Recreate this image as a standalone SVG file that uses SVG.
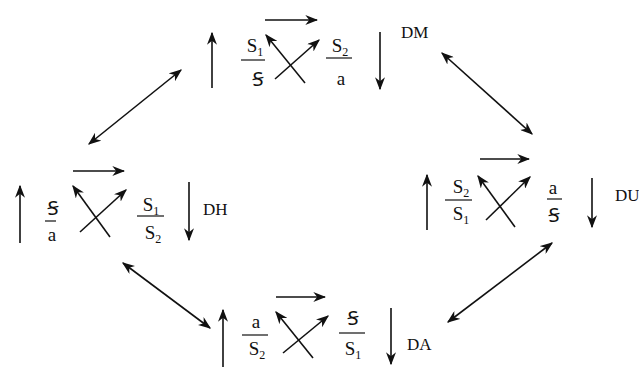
<svg xmlns="http://www.w3.org/2000/svg" width="639" height="367" viewBox="0 0 639 367">
<style>
  .ar{stroke:#111;stroke-width:1.6;fill:none;marker-end:url(#ah)}
  .dbl{stroke:#111;stroke-width:1.6;fill:none;marker-end:url(#ah);marker-start:url(#ah)}
  .fr{stroke:#111;stroke-width:1.2}
  text{font-family:"Liberation Serif","DejaVu Serif","Noto Sans",serif;fill:#111;font-size:19px}
  .c{text-anchor:middle}
  .lab{font-size:17px}
  .sub{font-size:12px}
  .sb{font-size:20px}
</style>
<defs>
  <marker id="ah" viewBox="0 0 10 10" refX="9" refY="5" markerWidth="13" markerHeight="10" markerUnits="userSpaceOnUse" preserveAspectRatio="none" orient="auto-start-reverse">
    <path d="M0,0 L10,5 L0,10 L3,5 z" fill="#111"/>
  </marker>
</defs>

<g id="DM">
  <line class="ar" x1="212" y1="88" x2="212" y2="33"/>
  <line class="ar" x1="265" y1="20" x2="317" y2="20"/>
  <text class="c" x="255" y="52">S<tspan class="sub" dy="4">1</tspan></text>
  <line class="fr" x1="241" y1="60" x2="265" y2="60"/>
  <text class="c sb" x="258" y="86">Ꞩ</text>
  <line class="ar" x1="275" y1="79" x2="319" y2="40"/>
  <line class="ar" x1="305" y1="83" x2="266" y2="35"/>
  <text class="c" x="340" y="52">S<tspan class="sub" dy="4">2</tspan></text>
  <line class="fr" x1="326" y1="58" x2="352" y2="58"/>
  <text class="c" x="341" y="85">a</text>
  <line class="ar" x1="380" y1="32" x2="380" y2="89"/>
  <text class="lab" x="401" y="38">DM</text>
</g>

<g id="DH">
  <line class="ar" x1="20" y1="243" x2="20" y2="186"/>
  <line class="ar" x1="73" y1="171" x2="124" y2="171"/>
  <text class="c sb" x="53" y="215">Ꞩ</text>
  <line class="fr" x1="45" y1="221" x2="56" y2="221"/>
  <text class="c" x="52" y="241">a</text>
  <line class="ar" x1="80" y1="232" x2="126" y2="190"/>
  <line class="ar" x1="110" y1="237" x2="73" y2="186"/>
  <text class="c" x="151" y="211">S<tspan class="sub" dy="4">1</tspan></text>
  <line class="fr" x1="137" y1="216" x2="164" y2="216"/>
  <text class="c" x="153" y="239">S<tspan class="sub" dy="4">2</tspan></text>
  <line class="ar" x1="189" y1="182" x2="189" y2="240"/>
  <text class="lab" x="203" y="215">DH</text>
</g>

<g id="DU">
  <line class="ar" x1="427" y1="230" x2="427" y2="175"/>
  <line class="ar" x1="480" y1="159" x2="529" y2="159"/>
  <text class="c" x="461" y="193">S<tspan class="sub" dy="4">2</tspan></text>
  <line class="fr" x1="445" y1="200" x2="472" y2="200"/>
  <text class="c" x="461" y="220">S<tspan class="sub" dy="4">1</tspan></text>
  <line class="ar" x1="486" y1="220" x2="530" y2="177"/>
  <line class="ar" x1="515" y1="227" x2="478" y2="176"/>
  <text class="c" x="553" y="194">a</text>
  <line class="fr" x1="547" y1="199" x2="562" y2="199"/>
  <text class="c sb" x="554" y="222">Ꞩ</text>
  <line class="ar" x1="592" y1="178" x2="592" y2="227"/>
  <text class="lab" x="615" y="201">DU</text>
</g>

<g id="DA">
  <line class="ar" x1="223" y1="367" x2="223" y2="310"/>
  <line class="ar" x1="276" y1="297" x2="325" y2="297"/>
  <text class="c" x="256" y="328">a</text>
  <line class="fr" x1="242" y1="335" x2="268" y2="335"/>
  <text class="c" x="257" y="355">S<tspan class="sub" dy="4">2</tspan></text>
  <line class="ar" x1="283" y1="353" x2="328" y2="316"/>
  <line class="ar" x1="313" y1="358" x2="276" y2="312"/>
  <text class="c sb" x="353" y="325">Ꞩ</text>
  <line class="fr" x1="339" y1="333" x2="365" y2="333"/>
  <text class="c" x="353" y="355">S<tspan class="sub" dy="4">1</tspan></text>
  <line class="ar" x1="391" y1="308" x2="391" y2="364"/>
  <text class="lab" x="407" y="350">DA</text>
</g>

<g id="connectors">
  <line class="dbl" x1="89" y1="144" x2="181" y2="70"/>
  <line class="dbl" x1="442" y1="53" x2="532" y2="134"/>
  <line class="dbl" x1="123" y1="263" x2="210" y2="328"/>
  <line class="dbl" x1="448" y1="322" x2="552" y2="243"/>
</g>
</svg>
